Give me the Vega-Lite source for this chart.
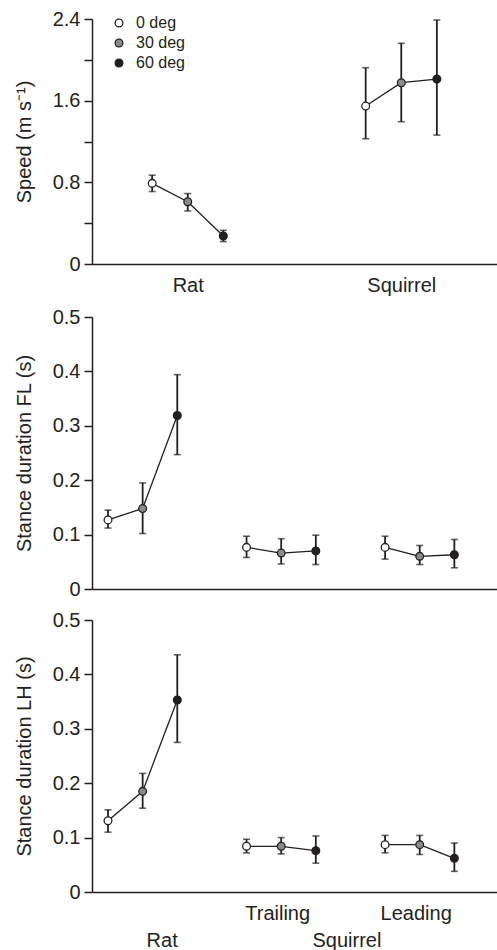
{
  "$schema": "https://vega.github.io/schema/vega-lite/v6.json",
  "background": "white",
  "padding": {"left": 14, "top": 9, "right": 0, "bottom": 0},
  "config": {
    "view": {"stroke": null},
    "font": "Liberation Sans",
    "axis": {"labelFont": "Liberation Sans", "titleFont": "Liberation Sans", "labelColor": "#231f20", "titleColor": "#231f20", "domainColor": "#231f20", "tickColor": "#231f20", "domainWidth": 1.5, "tickWidth": 1.5, "grid": false, "titleFontWeight": "normal", "labelFontSize": 20, "titleFontSize": 20},
    "legend": {"labelFont": "Liberation Sans", "labelColor": "#231f20"}
  },
  "datasets": {
    "speed": [
      {"group": "Rat", "deg": "0 deg", "cond": "Rat|0", "mean": 0.79, "lo": 0.71, "hi": 0.87},
      {"group": "Rat", "deg": "30 deg", "cond": "Rat|30", "mean": 0.61, "lo": 0.52, "hi": 0.69},
      {"group": "Rat", "deg": "60 deg", "cond": "Rat|60", "mean": 0.274, "lo": 0.22, "hi": 0.33},
      {"group": "Squirrel", "deg": "0 deg", "cond": "Squirrel|0", "mean": 1.547, "lo": 1.227, "hi": 1.923},
      {"group": "Squirrel", "deg": "30 deg", "cond": "Squirrel|30", "mean": 1.776, "lo": 1.394, "hi": 2.162},
      {"group": "Squirrel", "deg": "60 deg", "cond": "Squirrel|60", "mean": 1.812, "lo": 1.263, "hi": 2.39}
    ],
    "fl": [
      {"group": "Rat", "deg": "0 deg", "cond": "Rat|0", "mean": 0.127, "lo": 0.112, "hi": 0.145},
      {"group": "Rat", "deg": "30 deg", "cond": "Rat|30", "mean": 0.148, "lo": 0.102, "hi": 0.195},
      {"group": "Rat", "deg": "60 deg", "cond": "Rat|60", "mean": 0.319, "lo": 0.247, "hi": 0.394},
      {"group": "Trailing", "deg": "0 deg", "cond": "Trailing|0", "mean": 0.0765, "lo": 0.058, "hi": 0.097},
      {"group": "Trailing", "deg": "30 deg", "cond": "Trailing|30", "mean": 0.066, "lo": 0.046, "hi": 0.0925},
      {"group": "Trailing", "deg": "60 deg", "cond": "Trailing|60", "mean": 0.070, "lo": 0.045, "hi": 0.099},
      {"group": "Leading", "deg": "0 deg", "cond": "Leading|0", "mean": 0.0765, "lo": 0.055, "hi": 0.097},
      {"group": "Leading", "deg": "30 deg", "cond": "Leading|30", "mean": 0.060, "lo": 0.045, "hi": 0.080},
      {"group": "Leading", "deg": "60 deg", "cond": "Leading|60", "mean": 0.063, "lo": 0.039, "hi": 0.091}
    ],
    "lh": [
      {"group": "Rat", "deg": "0 deg", "cond": "Rat|0", "mean": 0.131, "lo": 0.110, "hi": 0.151},
      {"group": "Rat", "deg": "30 deg", "cond": "Rat|30", "mean": 0.185, "lo": 0.154, "hi": 0.218},
      {"group": "Rat", "deg": "60 deg", "cond": "Rat|60", "mean": 0.353, "lo": 0.275, "hi": 0.436},
      {"group": "Trailing", "deg": "0 deg", "cond": "Trailing|0", "mean": 0.084, "lo": 0.072, "hi": 0.097},
      {"group": "Trailing", "deg": "30 deg", "cond": "Trailing|30", "mean": 0.084, "lo": 0.070, "hi": 0.100},
      {"group": "Trailing", "deg": "60 deg", "cond": "Trailing|60", "mean": 0.076, "lo": 0.053, "hi": 0.103},
      {"group": "Leading", "deg": "0 deg", "cond": "Leading|0", "mean": 0.087, "lo": 0.072, "hi": 0.104},
      {"group": "Leading", "deg": "30 deg", "cond": "Leading|30", "mean": 0.087, "lo": 0.069, "hi": 0.104},
      {"group": "Leading", "deg": "60 deg", "cond": "Leading|60", "mean": 0.062, "lo": 0.038, "hi": 0.090}
    ]
  },
  "bounds": "flush",
  "spacing": 53,
  "resolve": {"scale": {"x": "independent", "y": "independent", "fill": "independent"}, "legend": {"fill": "independent"}},
  "vconcat": [
    {
      "width": 405,
      "height": 245,
      "data": {"name": "speed"},
      "encoding": {
        "x": {"field": "cond", "type": "nominal", "scale": {"type": "point", "domain": ["e1", "Rat|0", "Rat|30", "Rat|60", "s1", "s2", "s3", "Squirrel|0", "Squirrel|30", "Squirrel|60", "e2"], "padding": 0.69, "align": 0.5},
          "axis": {"title": null, "ticks": false, "labelAngle": 0, "labelFontSize": 20, "labelPadding": 11, "labelExpr": "datum.value == 'Rat|30' ? 'Rat' : datum.value == 'Squirrel|30' ? 'Squirrel' : ''"}}
      },
      "layer": [
        {"mark": {"type": "rule", "color": "#231f20", "strokeWidth": 1.8},
         "encoding": {"y": {"field": "lo", "type": "quantitative", "scale": {"domain": [0, 2.4], "nice": false}, "axis": {"title": "Speed (m s⁻¹)", "values": [0, 0.4, 0.8, 1.2, 1.6, 2.0, 2.4], "tickSize": 8, "labelPadding": 4, "titlePadding": 18, "labelExpr": "datum.value == 0 ? '0' : (abs(datum.value / 0.8 - round(datum.value / 0.8)) < 0.01 ? format(datum.value, '.1f') : '')"}}, "y2": {"field": "hi"}}},
        {"mark": {"type": "tick", "orient": "horizontal", "color": "#231f20", "size": 7, "thickness": 1.6}, "encoding": {"y": {"field": "lo", "type": "quantitative"}}},
        {"mark": {"type": "tick", "orient": "horizontal", "color": "#231f20", "size": 7, "thickness": 1.6}, "encoding": {"y": {"field": "hi", "type": "quantitative"}}},
        {"mark": {"type": "line", "color": "#231f20", "strokeWidth": 1.3}, "encoding": {"y": {"field": "mean", "type": "quantitative"}, "detail": {"field": "group"}}},
        {"mark": {"type": "point", "shape": "circle", "filled": true, "stroke": "#231f20", "strokeWidth": 1.3, "size": 60, "opacity": 1},
         "encoding": {"y": {"field": "mean", "type": "quantitative"},
           "fill": {"field": "deg", "type": "nominal", "scale": {"domain": ["0 deg", "30 deg", "60 deg"], "range": ["#ffffff", "#8a8a8a", "#231f20"]},
             "legend": {"title": null, "orient": "none", "legendX": 19, "legendY": -4, "labelFontSize": 16, "symbolSize": 60, "symbolStrokeColor": "#231f20", "symbolStrokeWidth": 1.3, "symbolType": "circle", "rowPadding": 4, "labelOffset": 9, "padding": 0}}}}
      ]
    },
    {
      "bounds": "flush",
      "spacing": 31,
      "resolve": {"scale": {"x": "independent", "y": "independent", "fill": "independent"}, "legend": {"fill": "independent"}},
      "vconcat": [
        {
          "width": 405,
          "height": 272,
          "data": {"name": "fl"},
          "encoding": {
            "x": {"field": "cond", "type": "nominal", "scale": {"type": "point", "domain": ["Rat|0", "Rat|30", "Rat|60", "s1", "Trailing|0", "Trailing|30", "Trailing|60", "s2", "Leading|0", "Leading|30", "Leading|60"], "padding": 0.847, "align": 0.273},
              "axis": {"title": null, "ticks": false, "labels": false}}
          },
          "layer": [
            {"mark": {"type": "rule", "color": "#231f20", "strokeWidth": 1.8},
             "encoding": {"y": {"field": "lo", "type": "quantitative", "scale": {"domain": [0, 0.5], "nice": false}, "axis": {"title": "Stance duration FL (s)", "values": [0, 0.1, 0.2, 0.3, 0.4, 0.5], "tickSize": 8, "labelPadding": 4, "titlePadding": 18, "labelExpr": "datum.value == 0 ? '0' : format(datum.value, '.1f')"}}, "y2": {"field": "hi"}}},
            {"mark": {"type": "tick", "orient": "horizontal", "color": "#231f20", "size": 7, "thickness": 1.6}, "encoding": {"y": {"field": "lo", "type": "quantitative"}}},
            {"mark": {"type": "tick", "orient": "horizontal", "color": "#231f20", "size": 7, "thickness": 1.6}, "encoding": {"y": {"field": "hi", "type": "quantitative"}}},
            {"mark": {"type": "line", "color": "#231f20", "strokeWidth": 1.3}, "encoding": {"y": {"field": "mean", "type": "quantitative"}, "detail": {"field": "group"}}},
            {"mark": {"type": "point", "shape": "circle", "filled": true, "stroke": "#231f20", "strokeWidth": 1.3, "size": 60, "opacity": 1},
             "encoding": {"y": {"field": "mean", "type": "quantitative"},
               "fill": {"field": "deg", "type": "nominal", "scale": {"domain": ["0 deg", "30 deg", "60 deg"], "range": ["#ffffff", "#8a8a8a", "#231f20"]}, "legend": null}}}
          ]
        },
        {
          "width": 405,
          "height": 272,
          "data": {"name": "lh"},
          "encoding": {
            "x": {"field": "cond", "type": "nominal", "scale": {"type": "point", "domain": ["Rat|0", "Rat|30", "Rat|60", "s1", "Trailing|0", "Trailing|30", "Trailing|60", "s2", "Leading|0", "Leading|30", "Leading|60"], "padding": 0.847, "align": 0.273},
              "axis": {"title": null, "ticks": false, "labelAngle": 0, "labelFontSize": 20,
                "labelPadding": {"condition": {"test": "datum.value == 'Rat|30' || datum.value == 's2'", "value": 38}, "value": 11},
                "labelOffset": {"condition": {"test": "datum.value == 'Rat|30'", "value": 19}, "value": -4},
                "labelExpr": "datum.value == 'Rat|30' ? 'Rat' : datum.value == 'Trailing|30' ? 'Trailing' : datum.value == 'Leading|30' ? 'Leading' : datum.value == 's2' ? 'Squirrel' : ''"}}
          },
          "layer": [
            {"mark": {"type": "rule", "color": "#231f20", "strokeWidth": 1.8},
             "encoding": {"y": {"field": "lo", "type": "quantitative", "scale": {"domain": [0, 0.5], "nice": false}, "axis": {"title": "Stance duration LH (s)", "values": [0, 0.1, 0.2, 0.3, 0.4, 0.5], "tickSize": 8, "labelPadding": 4, "titlePadding": 18, "labelExpr": "datum.value == 0 ? '0' : format(datum.value, '.1f')"}}, "y2": {"field": "hi"}}},
            {"mark": {"type": "tick", "orient": "horizontal", "color": "#231f20", "size": 7, "thickness": 1.6}, "encoding": {"y": {"field": "lo", "type": "quantitative"}}},
            {"mark": {"type": "tick", "orient": "horizontal", "color": "#231f20", "size": 7, "thickness": 1.6}, "encoding": {"y": {"field": "hi", "type": "quantitative"}}},
            {"mark": {"type": "line", "color": "#231f20", "strokeWidth": 1.3}, "encoding": {"y": {"field": "mean", "type": "quantitative"}, "detail": {"field": "group"}}},
            {"mark": {"type": "point", "shape": "circle", "filled": true, "stroke": "#231f20", "strokeWidth": 1.3, "size": 60, "opacity": 1},
             "encoding": {"y": {"field": "mean", "type": "quantitative"},
               "fill": {"field": "deg", "type": "nominal", "scale": {"domain": ["0 deg", "30 deg", "60 deg"], "range": ["#ffffff", "#8a8a8a", "#231f20"]}, "legend": null}}}
          ]
        }
      ]
    }
  ]
}
